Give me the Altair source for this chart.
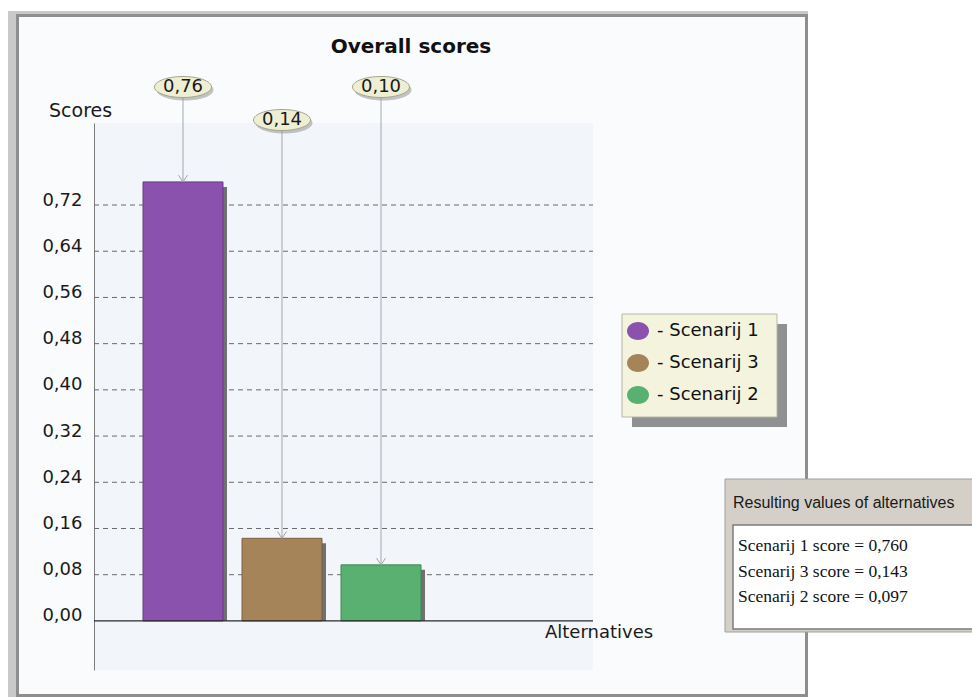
import altair as alt
import pandas as pd

# ---- data -------------------------------------------------------------
ALTERNATIVES = ["Scenarij 1", "Scenarij 3", "Scenarij 2"]
SCORES = [0.760, 0.143, 0.097]
FILL_COLORS = ["#8b52ad", "#a6845a", "#59b070"]
EDGE_COLORS = ["#6a3a8a", "#7c6040", "#3c8a50"]
TICKS = [0.00, 0.08, 0.16, 0.24, 0.32, 0.40, 0.48, 0.56, 0.64, 0.72]

TITLE = "Overall scores"
Y_TITLE = "Scores"
X_TITLE = "Alternatives"
PANEL_TITLE = "Resulting values of alternatives"

# ---- layout -----------------------------------------------------------
OX, OY = 94, 123          # top-left corner of the plot area on the page
W, H = 499, 547           # plot area size
PAGE_W, PAGE_H = 972, 697

ELLIPSE = "M -1 0 A 1 0.368 0 1 0 1 0 A 1 0.368 0 1 0 -1 0 Z"
LEGEND_ELLIPSE = "M -1 0 A 1 0.82 0 1 0 1 0 A 1 0.82 0 1 0 -1 0 Z"
ARROW = "M -1 -1.5 L 0 0 L 1 -1.5"

df = pd.DataFrame({"alternative": ALTERNATIVES, "score": SCORES})
df["rank"] = range(len(df))
grid_df = pd.DataFrame({"score": [t for t in TICKS if t > 0]})
one = pd.DataFrame({"k": [0]})


def px(v):
    return alt.value(v - OX)


def py(v):
    return alt.value(v - OY)


def box(x0, x1, y0, y1, **style):
    return alt.Chart(one).mark_rect(**style).encode(
        x=px(x0), x2=px(x1), y=py(y0), y2=py(y1)
    )


def label(txt, x, y, **style):
    return alt.Chart(pd.DataFrame({"t": [txt]})).mark_text(**style).encode(
        x=px(x), y=py(y), text="t:N"
    )


x_enc = alt.X(
    "alternative:N",
    sort=ALTERNATIVES,
    scale=alt.Scale(range=[143 - OX, 421 - OX], paddingInner=0.192, paddingOuter=0),
    axis=None,
)
y_enc = alt.Y(
    "score:Q",
    scale=alt.Scale(domain=[-0.085, 0.862], nice=False, zero=False),
    axis=alt.Axis(
        values=TICKS,
        labelExpr="replace(format(datum.value, '.2f'), '.', ',')",
        ticks=False,
        domainColor="#7c7c7c",
        domainWidth=1,
        grid=False,
        labelFont="DejaVu Sans",
        labelFontSize=18,
        labelColor="#1a1a1a",
        labelPadding=12,
        labelBaseline="alphabetic",
        title=None,
    ),
)

base = alt.Chart(df).transform_calculate(
    label="replace(format(datum.score, '.2f'), '.', ',')"
)

# ---- window frame -----------------------------------------------------
frame = [
    box(0, 8, 0, PAGE_H, color="#ffffff"),
    box(0, PAGE_W, 0, 11, color="#ffffff"),
    box(808, PAGE_W, 0, PAGE_H, color="#ffffff"),
    box(8, 16, 11, PAGE_H, color="#c9c9c9"),
    box(8, 808, 11, 14, color="#c9c9c9"),
    box(16, 19, 14, PAGE_H, color="#8e8e8e"),
    box(16, 808, 14, 17, color="#8e8e8e"),
    box(805, 808, 14, PAGE_H, color="#8e8e8e"),
    box(16, 808, 694, PAGE_H, color="#8e8e8e"),
]

# dashed grid across the full plot width
grid = alt.Chart(grid_df).mark_rule(
    color="#6a6a6a", strokeWidth=1, strokeDash=[5, 4]
).encode(y=y_enc, x=alt.value(0), x2=alt.value(W))

# ---- bars -------------------------------------------------------------
bar_shadow = base.mark_bar(color="#707070", xOffset=4, yOffset=5).encode(
    x=x_enc, y=y_enc, y2=alt.datum(0)
)
bars = base.mark_bar(strokeWidth=1).encode(
    x=x_enc,
    y=y_enc,
    y2=alt.datum(0),
    fill=alt.Fill(
        "alternative:N",
        sort=ALTERNATIVES,
        scale=alt.Scale(domain=ALTERNATIVES, range=FILL_COLORS),
        legend=alt.Legend(
            orient="none",
            legendX=627 - OX,
            legendY=320 - OY,
            title=None,
            padding=0,
            rowPadding=11,
            direction="vertical",
            symbolType=LEGEND_ELLIPSE,
            symbolSize=484,
            symbolStrokeWidth=0,
            labelFont="DejaVu Sans",
            labelFontSize=18,
            labelColor="#111111",
            labelOffset=8,
            labelExpr="'- ' + datum.label",
            zindex=1,
        ),
    ),
    stroke=alt.Stroke(
        "alternative:N",
        scale=alt.Scale(domain=ALTERNATIVES, range=EDGE_COLORS),
        legend=None,
    ),
)
zero_line = alt.Chart(one).mark_rule(color="#2a2a2a", strokeWidth=1.2).encode(
    y=alt.datum(0), x=alt.value(0), x2=alt.value(W)
)

# ---- value callouts (alternating rows so they do not collide) ----------
ROW_Y = [87, 120]
callouts = []
for r, cy in enumerate(ROW_Y):
    sel = base.transform_filter(f"datum.rank % 2 == {r}")
    callouts += [
        sel.mark_rule(color="#a3a7ae", strokeWidth=1).encode(
            x=x_enc, y=y_enc, y2=py(cy + 10)
        ),
        sel.mark_point(
            shape=ELLIPSE, size=3249, filled=True, color="#9c9c9c",
            opacity=0.6, xOffset=2, yOffset=3,
        ).encode(x=x_enc, y=py(cy)),
        sel.mark_point(
            shape=ELLIPSE, size=3249, filled=True, fill="#eeeed3",
            stroke="#a5a58f", strokeWidth=1, opacity=1,
        ).encode(x=x_enc, y=py(cy)),
        sel.mark_text(
            font="DejaVu Sans", fontSize=18, color="#1a1a1a", baseline="middle"
        ).encode(x=x_enc, y=py(cy), text="label:N"),
    ]
arrows = base.mark_point(
    shape=ARROW, size=81, filled=False, stroke="#9ea2aa", strokeWidth=1, opacity=1
).encode(x=x_enc, y=y_enc)

# ---- titles -----------------------------------------------------------
texts = [
    label(TITLE, 411, 53, font="DejaVu Sans", fontSize=20, fontWeight="bold",
          align="center", baseline="alphabetic", color="#111111"),
    label(Y_TITLE, 49, 117, font="DejaVu Sans", fontSize=19, align="left",
          baseline="alphabetic", color="#1a1a1a"),
    label(X_TITLE, 545, 638, font="DejaVu Sans", fontSize=18, align="left",
          baseline="alphabetic", color="#1a1a1a"),
]

# ---- legend box (entries come from the fill legend) --------------------
legend_box = [
    box(632, 787, 324, 427, color="#8f9091"),
    box(622, 777, 314, 417, fill="#f3f3de", stroke="#b7b7a4", strokeWidth=1),
]

# ---- results panel ----------------------------------------------------
result_lines = "\n".join(
    f"{a} score = {s:.3f}".replace(".", ",") for a, s in zip(ALTERNATIVES, SCORES)
)
panel = [
    box(725, 980, 479, 632, fill="#d4d0c8", stroke="#a0a0a0", strokeWidth=1),
    box(733, 985, 525, 629, fill="#ffffff", stroke="#7c7c7c", strokeWidth=1.5),
    label(PANEL_TITLE, 733, 508, font="Liberation Sans", fontSize=16,
          align="left", baseline="alphabetic", color="#1a1a1a"),
    alt.Chart(pd.DataFrame({"t": [result_lines]})).mark_text(
        font="Liberation Serif", fontSize=17.5, align="left", baseline="alphabetic",
        lineBreak="\n", lineHeight=25.5, color="#111111",
    ).encode(x=px(738), y=py(551), text="t:N"),
]

chart = alt.layer(
    *frame,
    grid,
    bar_shadow,
    bars,
    zero_line,
    *callouts,
    arrows,
    *texts,
    *legend_box,
    *panel,
).properties(
    width=W,
    height=H,
    padding={"left": OX, "top": OY, "right": PAGE_W - OX - W, "bottom": PAGE_H - OY - H},
    autosize=alt.AutoSizeParams(type="none"),
    background="#f9fbfd",
).configure_view(fill="#f2f5f9", stroke=None)

chart.save("out.html", embed_options={"renderer": "svg", "actions": False})
